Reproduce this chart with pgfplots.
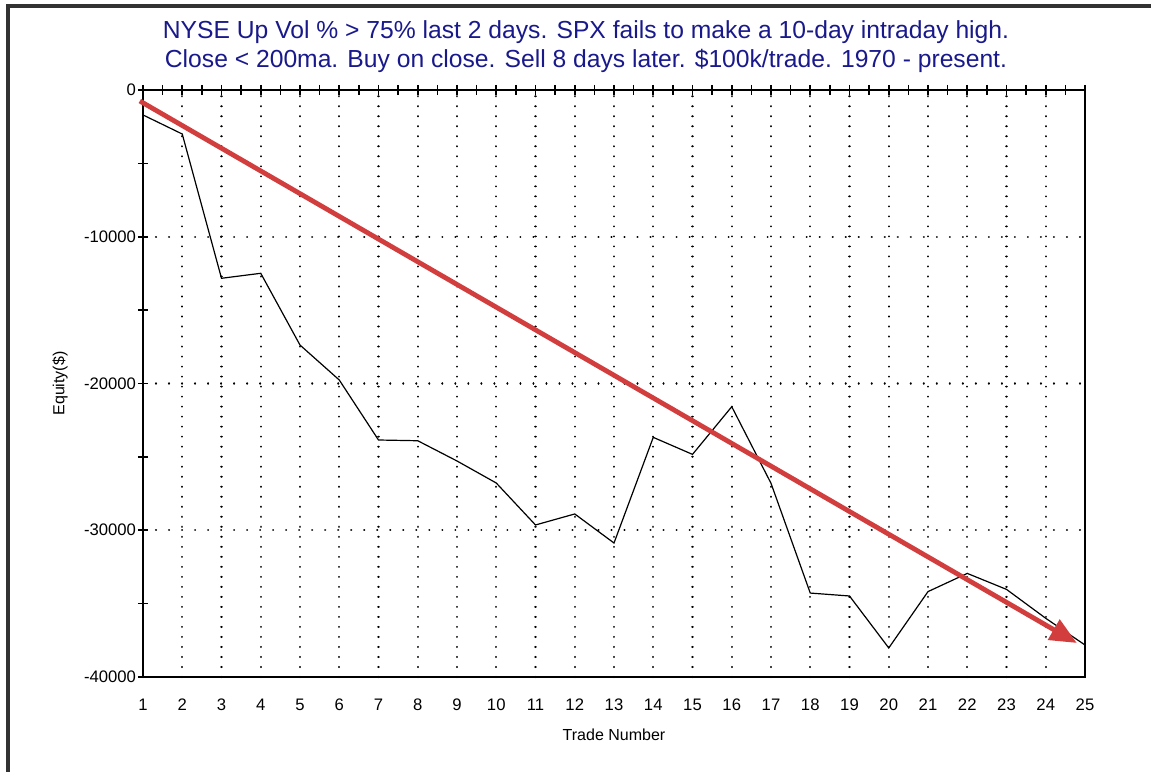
\documentclass[border=0pt]{standalone}
\usepackage{pgfplots}
\pgfplotsset{compat=1.18}
\usepackage{fontspec}
\setmainfont{Liberation Sans}
\usetikzlibrary{arrows.meta}
\definecolor{titleblue}{RGB}{25,25,140}
\definecolor{arrowred}{RGB}{210,62,62}
\definecolor{framegray}{RGB}{50,50,50}
\begin{document}
\begin{tikzpicture}
\useasboundingbox (0,0) rectangle (863.25pt,579pt);
% screenshot frame
\fill[framegray] (4.5pt,0pt) rectangle (7.5pt,576pt);
\fill[framegray] (4.5pt,573pt) rectangle (863.25pt,576pt);
\node[align=center, text=titleblue, font=\fontsize{18.5pt}{21.75pt}\selectfont] at (439.5pt,543.75pt)
  {NYSE Up Vol \% > 75\% last 2 days. SPX fails to make a 10-day intraday high.\\
   Close < 200ma. Buy on close. Sell 8 days later. \$100k/trade. 1970 - present.};
\begin{axis}[
  at={(107.25pt,71.25pt)}, anchor=south west,
  scale only axis, width=706.5pt, height=440.25pt,
  xmin=1, xmax=25, ymin=-40000, ymax=0,
  clip=false,
  axis line style={black, line width=1.2pt},
  xtick={1,...,25},
  minor x tick num=1,
  xtick pos=upper, xticklabel pos=lower,
  ytick={0,-10000,-20000,-30000,-40000},
  minor y tick num=1,
  ytick pos=left,
  tick align=center,
  major tick length=7.5pt, minor tick length=7.5pt,
  every tick/.style={black, line width=1.2pt},
  scaled y ticks=false,
  /pgf/number format/assume math mode=true,
  yticklabel={\pgfmathprintnumber[fixed,1000 sep={}]{\tick}},
  ticklabel style={font=\fontsize{12.5pt}{14pt}\selectfont},
  xticklabel style={anchor=north, yshift=-9pt},
  yticklabel style={anchor=east, xshift=2pt},
  xmajorgrids, ymajorgrids,
  major x grid style={black, line width=1.6pt, dash pattern=on 0.01pt off 7.5pt, line cap=round},
  major y grid style={black, line width=1.6pt, dash pattern=on 0.01pt off 9.75pt, line cap=round},
  xlabel={Trade Number}, ylabel={Equity(\$)},
  label style={font=\fontsize{12pt}{14pt}\selectfont},
  xlabel style={at={(axis description cs:0.5,-0.0988)}, anchor=center},
  ylabel style={at={(axis description cs:-0.0881,0.5)}, anchor=center},
]
\addplot[black, line width=0.9pt, mark=none] coordinates {
(1,-1700) (2,-3000) (3,-12830) (4,-12490) (5,-17380) (6,-19760) (7,-23850)
(8,-23900) (9,-25280) (10,-26780) (11,-29640) (12,-28890) (13,-30870)
(14,-23670) (15,-24830) (16,-21580) (17,-26800) (18,-34280) (19,-34480)
(20,-38020) (21,-34180) (22,-32940) (23,-34030) (24,-36000) (25,-37820)
};
\addplot[arrowred, line width=3.6pt, mark=none, -{Triangle[length=20pt,width=17pt]}] coordinates {
(0.92,-750) (24.79,-37680)
};
\end{axis}
\end{tikzpicture}
\end{document}
